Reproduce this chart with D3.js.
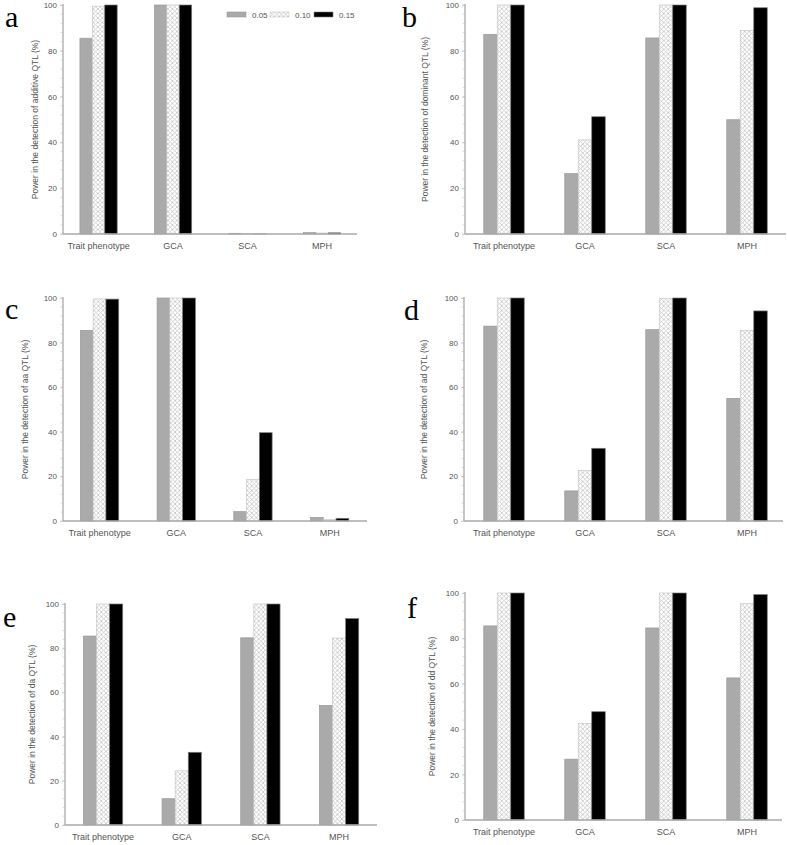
<!DOCTYPE html>
<html>
<head>
<meta charset="utf-8">
<script src="https://cdn.jsdelivr.net/npm/d3@7"></script>
<style>
  html, body { margin: 0; padding: 0; background: #fff; }
  svg { display: block; }
  text { font-family: "Liberation Sans", Arial, sans-serif; fill: #555; }
  text.letter { font-family: "Liberation Serif", "Times New Roman", serif; fill: #000; }
</style>
</head>
<body>
<svg id="chart" width="787" height="845"></svg>
<script>
// ---------- data ----------
const categories = ["Trait phenotype", "GCA", "SCA", "MPH"];
const seriesNames = ["0.05", "0.10", "0.15"];
const yTicks = [0, 20, 40, 60, 80, 100];
const panelLetters = ["a", "b", "c", "d", "e", "f"];
const yLabels = [
  "Power in the detection of additive QTL (%)",
  "Power in the detection of dominant QTL (%)",
  "Power in the detection of aa QTL (%)",
  "Power in the detection of ad QTL (%)",
  "Power in the detection of da QTL (%)",
  "Power in the detection of dd QTL (%)"
];
// values per category: [0.05, 0.10, 0.15]
const additiveQTL = [[85.5, 99.5, 100], [100, 100, 100], [0.3, 0.15, 0.05], [0.6, 0.4, 0.5]];
const dominantQTL = [[87.2, 100, 100], [26.4, 41.1, 51.2], [85.6, 100, 100], [49.9, 88.8, 98.8]];
const aaQTL       = [[85.5, 99.6, 99.5], [100, 100, 100], [4.2, 18.7, 39.6], [1.6, 0.7, 1.2]];
const adQTL       = [[87.4, 100, 100], [13.5, 22.7, 32.6], [85.8, 99.7, 100], [55.0, 85.4, 94.2]];
const daQTL       = [[85.5, 100, 100], [11.9, 24.5, 32.9], [84.7, 100, 100], [54.1, 84.6, 93.4]];
const ddQTL       = [[85.5, 100, 100], [26.8, 42.5, 47.7], [84.6, 100, 100], [62.6, 95.3, 99.3]];
const panelData = [additiveQTL, dominantQTL, aaQTL, adQTL, daQTL, ddQTL];

// ---------- layout (pixels) ----------
const layout = [
  { ax0: 63,  ax1: 357, r0: 61.3,  r1: 359.3, top: 5,   bottom: 234, lx: 5,   ly: 27,  yl: 36 },
  { ax0: 465, ax1: 786, r0: 463.5, r1: 787.5, top: 5,   bottom: 234, lx: 402, ly: 27,  yl: 426 },
  { ax0: 63,  ax1: 367, r0: 61.2,  r1: 368,   top: 298, bottom: 521, lx: 5,   ly: 319, yl: 26 },
  { ax0: 464, ax1: 783, r0: 463.5, r1: 787.5, top: 298, bottom: 521, lx: 404, ly: 320, yl: 425 },
  { ax0: 65,  ax1: 377, r0: 63.7,  r1: 378.4, top: 604, bottom: 825, lx: 3,   ly: 627, yl: 33 },
  { ax0: 465, ax1: 782, r0: 463.5, r1: 787.5, top: 593, bottom: 820, lx: 407, ly: 618, yl: 433 }
];

const svg = d3.select("#chart");

// hatch pattern
const defs = svg.append("defs");
const pat = defs.append("pattern")
  .attr("id", "hatch").attr("patternUnits", "userSpaceOnUse")
  .attr("width", 4.5).attr("height", 4.5);
pat.append("rect").attr("width", 4.5).attr("height", 4.5).attr("fill", "#fff");
pat.append("path").attr("d", "M0,0 L4.5,4.5 M4.5,0 L0,4.5")
  .attr("stroke", "#c4c4c4").attr("stroke-width", 0.8);

const fills = ["#aaaaaa", "url(#hatch)", "#000000"];
const strokes = ["#9a9a9a", "#c8c8c8", "#7a7a7a"];

panelData.forEach((data, p) => {
  const L = layout[p];
  const g = svg.append("g");

  const x = d3.scaleBand().domain(categories).range([L.r0, L.r1])
    .paddingInner(0.5).paddingOuter(0.25);
  const xs = d3.scaleBand().domain(seriesNames).range([0, x.bandwidth()]);
  const y = d3.scaleLinear().domain([0, 100]).range([L.bottom, L.top]);

  // minor ticks
  const minor = d3.range(0, 101, 4);
  g.append("g").selectAll("line").data(minor).join("line")
    .attr("x1", L.ax0 - 2.5).attr("x2", L.ax0)
    .attr("y1", d => y(d)).attr("y2", d => y(d))
    .attr("stroke", "#c8c8c8").attr("stroke-width", 0.6);

  // y axis
  const yAxis = g.append("g").attr("transform", `translate(${L.ax0},0)`)
    .call(d3.axisLeft(y).tickValues(yTicks).tickSize(3).tickPadding(3));
  yAxis.select(".domain").remove();
  yAxis.selectAll(".tick line").attr("stroke", "#bbb").attr("stroke-width", 0.6);
  yAxis.selectAll(".tick text").attr("font-size", 8)
    .attr("font-family", "Liberation Sans, Arial, sans-serif");
  g.append("line").attr("x1", L.ax0).attr("x2", L.ax0)
    .attr("y1", L.top - 1).attr("y2", L.bottom)
    .attr("stroke", "#aaa").attr("stroke-width", 1.3);

  // bars
  const groups = g.append("g").selectAll("g").data(categories).join("g")
    .attr("transform", c => `translate(${x(c)},0)`);
  groups.selectAll("rect")
    .data((c, i) => data[i].map((v, s) => ({ v, s })))
    .join("rect")
    .attr("x", d => xs(seriesNames[d.s]))
    .attr("width", xs.bandwidth())
    .attr("y", d => y(d.v))
    .attr("height", d => Math.max(0, y(0) - y(d.v)))
    .attr("fill", d => fills[d.s])
    .attr("stroke", d => strokes[d.s])
    .attr("stroke-width", 0.7);

  // x axis line
  g.append("line").attr("x1", L.ax0).attr("x2", L.ax1)
    .attr("y1", L.bottom).attr("y2", L.bottom)
    .attr("stroke", "#aaa").attr("stroke-width", 1.3);

  // category labels
  g.append("g").selectAll("text").data(categories).join("text")
    .attr("x", c => x(c) + x.bandwidth() / 2)
    .attr("y", L.bottom + 15)
    .attr("text-anchor", "middle")
    .attr("font-size", 9)
    .text(c => c);

  // y label
  g.append("text")
    .attr("transform", `translate(${L.yl},${(L.top + L.bottom) / 2}) rotate(-90)`)
    .attr("text-anchor", "middle")
    .attr("dominant-baseline", "middle")
    .attr("font-size", 8.5)
    .text(yLabels[p]);

  // panel letter
  g.append("text")
    .attr("class", "letter")
    .attr("x", L.lx).attr("y", L.ly)
    .attr("font-size", 30)
    .text(panelLetters[p]);
});

// legend
const legendX = [227, 270, 314];
const leg = svg.append("g").selectAll("g").data(seriesNames).join("g")
  .attr("transform", (d, i) => `translate(${legendX[i]},12)`);
leg.append("rect").attr("width", 19).attr("height", 5)
  .attr("fill", (d, i) => fills[i]).attr("stroke", (d, i) => strokes[i]).attr("stroke-width", 0.6);
leg.append("text").attr("x", 25).attr("y", 5.5).attr("font-size", 8).text(d => d);
</script>
</body>
</html>
